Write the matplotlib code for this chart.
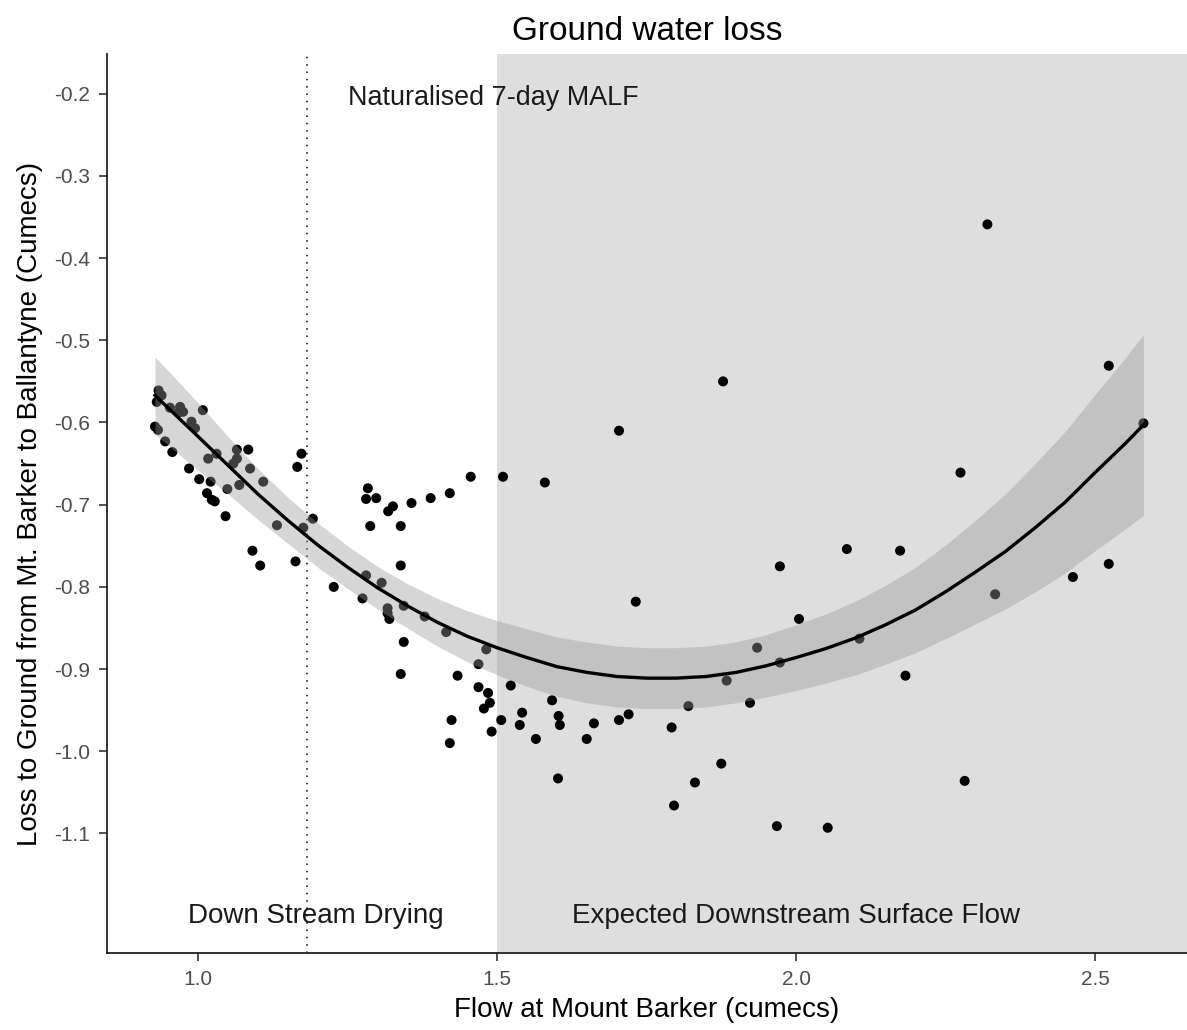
import matplotlib
matplotlib.use("Agg")
import matplotlib.pyplot as plt
import numpy as np

plt.rcParams['font.family'] = ['Liberation Sans', 'DejaVu Sans']

# Observations: flow at Mount Barker vs loss to ground (cumecs)
flow = [0.934, 0.939, 0.931, 0.953, 0.970, 0.975, 0.967, 1.008, 0.989, 0.995,
        0.928, 0.933, 0.945, 0.957, 1.065, 1.084, 1.031, 1.017, 1.065, 1.059,
        1.087, 1.173, 1.166, 0.985, 1.002, 1.021, 1.049, 1.069, 1.109, 1.015,
        1.023, 1.028, 1.046, 1.132, 1.176, 1.192, 1.091, 1.104, 1.163, 1.227,
        1.284, 1.281, 1.298, 1.288, 1.318, 1.326, 1.357, 1.389, 1.421, 1.456,
        1.510, 1.339, 1.339, 1.281, 1.307, 1.275, 1.317, 1.317, 1.320, 1.344,
        1.379, 1.344, 1.415, 1.482, 1.469, 1.339, 1.434, 1.469, 1.485, 1.488,
        1.478, 1.507, 1.424, 1.491, 1.421,
        1.704, 1.580, 1.732, 1.523, 1.592, 1.542, 1.603, 1.605, 1.538, 1.662,
        1.704, 1.720, 1.565, 1.650, 1.792, 1.820, 1.884, 1.602, 1.875, 1.831,
        1.796,
        1.878, 2.085, 2.174, 1.973, 2.005, 1.935, 1.973, 2.106, 1.923, 2.183,
        1.968, 2.053,
        2.320, 2.523, 2.581, 2.275, 2.333, 2.463, 2.523, 2.282]
loss = [-0.561, -0.567, -0.575, -0.582, -0.581, -0.587, -0.588, -0.585, -0.599, -0.607,
        -0.605, -0.609, -0.623, -0.636, -0.633, -0.633, -0.638, -0.644, -0.644, -0.650,
        -0.656, -0.638, -0.654, -0.656, -0.669, -0.672, -0.681, -0.676, -0.672, -0.686,
        -0.694, -0.696, -0.714, -0.725, -0.728, -0.717, -0.756, -0.774, -0.769, -0.800,
        -0.680, -0.693, -0.692, -0.726, -0.708, -0.702, -0.698, -0.692, -0.686, -0.666,
        -0.666, -0.726, -0.774, -0.786, -0.795, -0.814, -0.826, -0.832, -0.839, -0.823,
        -0.836, -0.867, -0.855, -0.876, -0.894, -0.906, -0.908, -0.922, -0.929, -0.941,
        -0.948, -0.962, -0.962, -0.976, -0.990,
        -0.610, -0.673, -0.818, -0.920, -0.938, -0.953, -0.957, -0.968, -0.968, -0.966,
        -0.962, -0.955, -0.985, -0.985, -0.971, -0.945, -0.914, -1.033, -1.015, -1.038,
        -1.066,
        -0.550, -0.754, -0.756, -0.775, -0.839, -0.874, -0.892, -0.863, -0.941, -0.908,
        -1.091, -1.093,
        -0.359, -0.531, -0.601, -0.661, -0.809, -0.788, -0.772, -1.036]

# Smoothed trend and the half-width of its confidence band
fit_x = [0.928, 1.00, 1.05, 1.10, 1.15, 1.20, 1.25, 1.30, 1.35, 1.40,
         1.45, 1.50, 1.55, 1.60, 1.65, 1.70, 1.75, 1.80, 1.85, 1.90,
         1.95, 2.00, 2.05, 2.10, 2.15, 2.20, 2.25, 2.30, 2.35, 2.40,
         2.45, 2.50, 2.55, 2.581]
fit_y = [-0.567, -0.617, -0.652, -0.687, -0.719, -0.749, -0.776, -0.801, -0.823, -0.843,
         -0.860, -0.874, -0.886, -0.897, -0.904, -0.909, -0.911, -0.911, -0.909, -0.904,
         -0.896, -0.886, -0.875, -0.862, -0.846, -0.828, -0.806, -0.782, -0.757, -0.728,
         -0.697, -0.661, -0.626, -0.603]
fit_half = [0.047, 0.041, 0.035, 0.031, 0.028, 0.027, 0.026, 0.026, 0.027, 0.029,
            0.031, 0.033, 0.035, 0.036, 0.037, 0.037, 0.037, 0.037, 0.037, 0.037,
            0.038, 0.040, 0.042, 0.045, 0.048, 0.052, 0.057, 0.063, 0.070, 0.078,
            0.086, 0.095, 0.104, 0.110]

malf = 1.183
surface_flow_start = 1.5

x_ticks = [1.0, 1.5, 2.0, 2.5]
y_ticks = [-0.2, -0.3, -0.4, -0.5, -0.6, -0.7, -0.8, -0.9, -1.0, -1.1]

fig = plt.figure(figsize=(11.87, 10.30), dpi=100)
ax = fig.add_axes([0.0899, 0.0745, 1.0 - 0.0899, 0.9476 - 0.0745])

xlim = (0.8473, 2.6538)
ylim = (-1.2457, -0.1517)

ax.axvspan(surface_flow_start, xlim[1] + 1, color='#dedede', lw=0, zorder=0)
ax.axvline(malf, color='black', lw=1.1, linestyle=(0, (1, 3.8)), zorder=1)

fy = np.array(fit_y)
fh = np.array(fit_half)
ax.scatter(flow, loss, s=52, color='black', edgecolors='none', zorder=2)
ax.fill_between(fit_x, fy - fh, fy + fh, color='#999999', alpha=0.4, lw=0, zorder=3)
ax.plot(fit_x, fy, color='black', lw=2.4, zorder=4)

ax.text(1.493, -0.205, 'Naturalised 7-day MALF', ha='center', va='center',
        fontsize=19.4, color='#1a1a1a', zorder=5)
ax.text(1.197, -1.2, 'Down Stream Drying', ha='center', va='center',
        fontsize=20, color='#1a1a1a', zorder=5)
ax.text(2.0, -1.2, 'Expected Downstream Surface Flow', ha='center', va='center',
        fontsize=20, color='#1a1a1a', zorder=5)

ax.set_xlim(*xlim)
ax.set_ylim(*ylim)
ax.set_xticks(x_ticks)
ax.set_xticklabels([f'{v:.1f}' for v in x_ticks])
ax.set_yticks(y_ticks)
ax.set_yticklabels([f'{v:.1f}' for v in y_ticks])

for side in ('top', 'right'):
    ax.spines[side].set_visible(False)
for side in ('left', 'bottom'):
    ax.spines[side].set_linewidth(1.3)
    ax.spines[side].set_color('#222222')
ax.tick_params(axis='both', direction='out', length=6, width=1.2, color='#333333',
               labelsize=15, labelcolor='#4d4d4d', pad=6)

ax.set_xlabel('Flow at Mount Barker (cumecs)', fontsize=20, labelpad=6)
ax.set_ylabel('Loss to Ground from Mt. Barker to Ballantyne (Cumecs)', fontsize=20, labelpad=8)
ax.set_title('Ground water loss', fontsize=24, pad=10)

fig.savefig('out.png', dpi=100)
